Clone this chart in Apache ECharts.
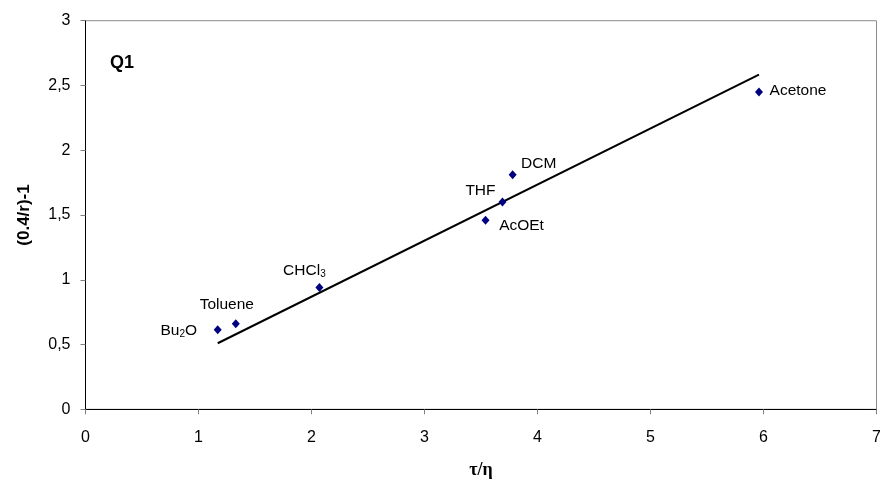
<!DOCTYPE html>
<html>
<head>
<meta charset="utf-8">
<script src="https://cdn.jsdelivr.net/npm/echarts@6/dist/echarts.min.js"></script>
<style>html,body{margin:0;padding:0;background:#fff}#c{width:880px;height:483px}</style>
</head>
<body>
<div id="c"></div>
<script>
// Data
var solvents = ['Bu{s|2}O', 'Toluene', 'CHCl{s|3}', 'AcOEt', 'THF', 'DCM', 'Acetone'];
var tauEta   = [1.17, 1.33, 2.07, 3.54, 3.69, 3.78, 5.96];
var ratio    = [0.615, 0.66, 0.94, 1.46, 1.60, 1.81, 2.45];
var fitX = [1.17, 5.96];
var fitY = [0.51, 2.584];
var xTicks = [0, 1, 2, 3, 4, 5, 6, 7];
var yTicks = [0, 0.5, 1, 1.5, 2, 2.5, 3];

// Label layout (offsets from marker centre)
var labelOffsets = [[-39, 1], [-9, -19], [-15, -17], [36, 6], [-22, -11], [26, -11], [39, -1]];

var pts = tauEta.map(function (x, i) {
  return {
    value: [x, ratio[i]],
    label: { offset: labelOffsets[i] }
  };
});
var fit = fitX.map(function (x, i) { return [x, fitY[i]]; });

var chart = echarts.init(document.getElementById('c'));
var fontF = 'Liberation Sans, Arial, sans-serif';
chart.setOption({
  animation: false,
  grid: { left: 85.5, right: 3.5, top: 20.7, bottom: 73.7, show: true, borderColor: '#8c8c8c', borderWidth: 1,
          containLabel: false, outerBoundsMode: 'none' },
  xAxis: {
    type: 'value', min: xTicks[0], max: xTicks[xTicks.length - 1], interval: 1,
    axisLine: { onZero: false, lineStyle: { color: '#000', width: 1 } },
    axisTick: { show: true, length: 5, lineStyle: { color: '#808080' } },
    splitLine: { show: false },
    axisLabel: { color: '#000', fontSize: 16, fontFamily: fontF, margin: 20 },
    name: 'τ/η', nameLocation: 'middle', nameGap: 52,
    nameTextStyle: { fontFamily: 'Liberation Serif, DejaVu Serif, serif', fontWeight: 'bold', fontSize: 18, color: '#000' }
  },
  yAxis: {
    type: 'value', min: yTicks[0], max: yTicks[yTicks.length - 1], interval: 0.5,
    axisLine: { show: true, onZero: false, lineStyle: { color: '#000', width: 1 } },
    axisTick: { show: true, length: 5, lineStyle: { color: '#808080' } },
    splitLine: { show: false },
    axisLabel: { color: '#000', fontSize: 16, fontFamily: fontF, margin: 15,
      formatter: function (v) { return String(v).replace('.', ','); } },
    name: '(0.4/r)-1', nameLocation: 'middle', nameGap: 53, nameRotate: 90,
    nameTextStyle: { fontFamily: fontF, fontWeight: 'bold', fontSize: 17, color: '#000' }
  },
  graphic: [{
    type: 'text', left: 110, top: 54,
    style: { text: 'Q1', fontFamily: fontF, fontWeight: 'bold', fontSize: 18, fill: '#000' }
  }],
  series: [
    {
      type: 'line', data: fit, symbol: 'none', silent: true,
      lineStyle: { color: '#000', width: 2 }, z: 2
    },
    {
      type: 'scatter', data: pts, symbol: 'diamond', symbolSize: [8, 9], z: 3,
      itemStyle: { color: '#000080', opacity: 1 },
      label: {
        show: true, position: 'inside', align: 'center', verticalAlign: 'middle',
        formatter: function (p) { return solvents[p.dataIndex]; },
        color: '#000', fontFamily: fontF, fontSize: 15.5,
        rich: { s: { fontSize: 10, fontFamily: fontF, color: '#000', verticalAlign: 'bottom', padding: [8, 0, 0, 0] } }
      }
    }
  ]
});
</script>
</body>
</html>
